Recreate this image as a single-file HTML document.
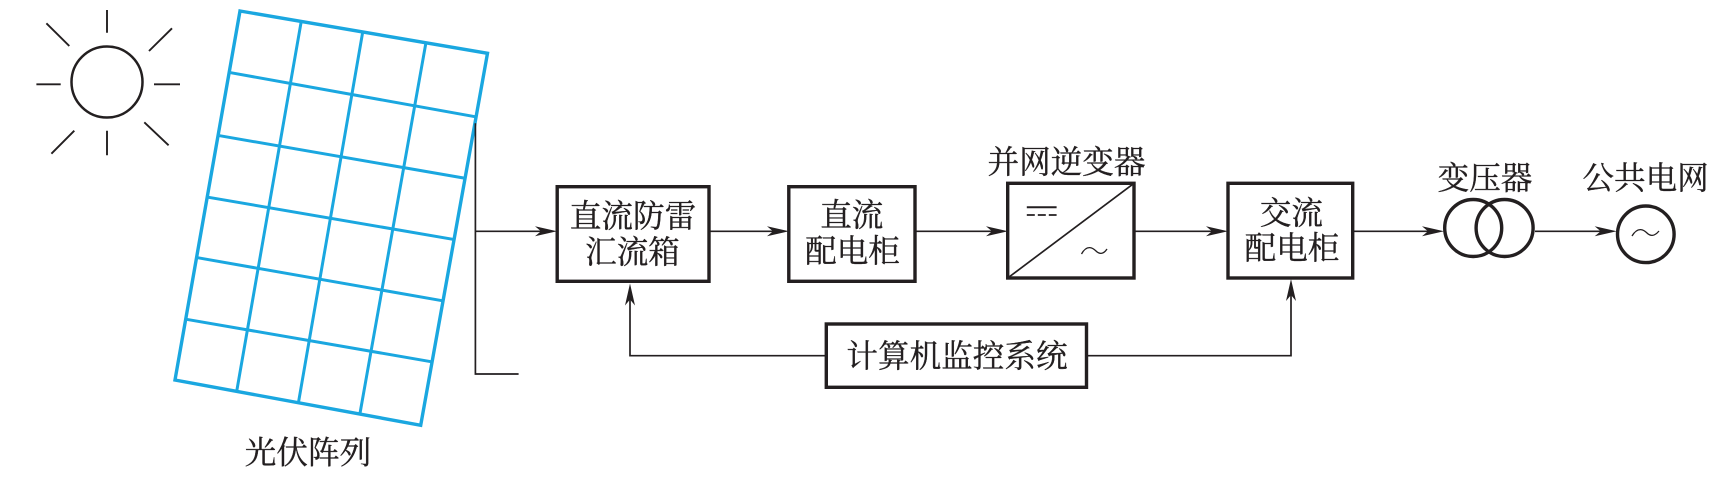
<!DOCTYPE html>
<html>
<head>
<meta charset="utf-8">
<style>
html,body{margin:0;padding:0;background:#fff;width:1721px;height:488px;overflow:hidden}
svg{display:block}
text{font-family:"Liberation Serif","Noto Serif CJK SC",serif;font-size:31.6px;fill:#231f20;stroke:#231f20;stroke-width:0.35px;text-anchor:middle}
</style>
</head>
<body>
<svg width="1721" height="488" viewBox="0 0 1721 488" xmlns="http://www.w3.org/2000/svg">
<defs>
<path id="ah" d="M0 0L-22 -5L-16 0L-22 5Z" fill="#231f20"/>
</defs>
<g fill="none" stroke="#231f20" stroke-width="1.9">
<circle cx="107" cy="82" r="35.5" stroke-width="2.5"/>
<path d="M107 10V32.7M36.4 84.3H60.7M154 84.3H180M107 130.7V155.3M46.4 23.3L69.3 46M172 28.3L149 51M74.3 130.7L51.4 153.7M144.3 122.3L168.6 145.3"/>
</g>
<g fill="none" stroke="#1aa7e0" stroke-width="3">
<path d="M230.7 72.7L475 116.7M219.6 135.7L463.6 178M208.6 197.3L452.9 239.3M197.5 257.7L442.1 300.7M186.4 319.3L431 361.7"/>
<path d="M301 22.7L236.8 390.7M362.5 33.3L298.6 401.7M425.7 44L360 413.3"/>
<path d="M240 11L487.5 53.3L420.7 425.3L175 380Z" stroke-width="3.4" stroke-linejoin="miter"/>
</g>
<g fill="none" stroke="#231f20" stroke-width="1.7">
<path d="M475.4 123.3V374H518.6M475.4 231.3H550"/>
<path d="M709 231.3H782M915 231.3H1002M1134 231.3H1222M1352.7 231.3H1438M1535 231.3H1610"/>
<path d="M826.3 355.7H630V290M1086.5 355.7H1291V286"/>
<path d="M1007.7 278L1134 183.3"/>
<path d="M1026.8 207.3H1056.6" stroke-width="2"/>
<path d="M1026.8 215H1056.6" stroke-width="1.8" stroke-dasharray="8 3"/>
<path d="M1081.5 254C1087 244 1093 248 1096 251C1099 254 1103 255 1107 249" stroke-width="1.3"/>
<path d="M1632 236C1638 226 1644 230 1647 233C1650 236 1654 237 1659 231" stroke-width="1.3"/>
</g>
<use href="#ah" transform="translate(557 231.3)"/>
<use href="#ah" transform="translate(789 231.3)"/>
<use href="#ah" transform="translate(1008 231.3)"/>
<use href="#ah" transform="translate(1228 231.3)"/>
<use href="#ah" transform="translate(1444 231.3)"/>
<use href="#ah" transform="translate(1616.7 231.3)"/>
<use href="#ah" transform="translate(630 283.5) rotate(-90)"/>
<use href="#ah" transform="translate(1291 279) rotate(-90)"/>
<g fill="none" stroke="#231f20" stroke-width="3.4">
<rect x="557.2" y="186.7" width="151.8" height="94.6"/>
<rect x="788.8" y="186.7" width="126.2" height="94.6"/>
<rect x="1007.7" y="183.3" width="126.3" height="94.7"/>
<rect x="1228" y="183.3" width="124.7" height="94.7"/>
<rect x="826.3" y="324" width="260.2" height="63.3"/>
<circle cx="1473.2" cy="228" r="28.5"/>
<circle cx="1504.6" cy="228" r="28.5"/>
<circle cx="1645.8" cy="234.3" r="28.3"/>
</g>
<text x="308" y="463.5">光伏阵列</text>
<text x="633" y="227">直流防雷</text>
<text x="632.5" y="263">汇流箱</text>
<text x="851.8" y="226">直流</text>
<text x="852.5" y="262">配电柜</text>
<text x="1066.5" y="173">并网逆变器</text>
<text x="1291.4" y="224">交流</text>
<text x="1292" y="259">配电柜</text>
<text x="957" y="367">计算机监控系统</text>
<text x="1485" y="189">变压器</text>
<text x="1645.6" y="189">公共电网</text>
</svg>
</body>
</html>
